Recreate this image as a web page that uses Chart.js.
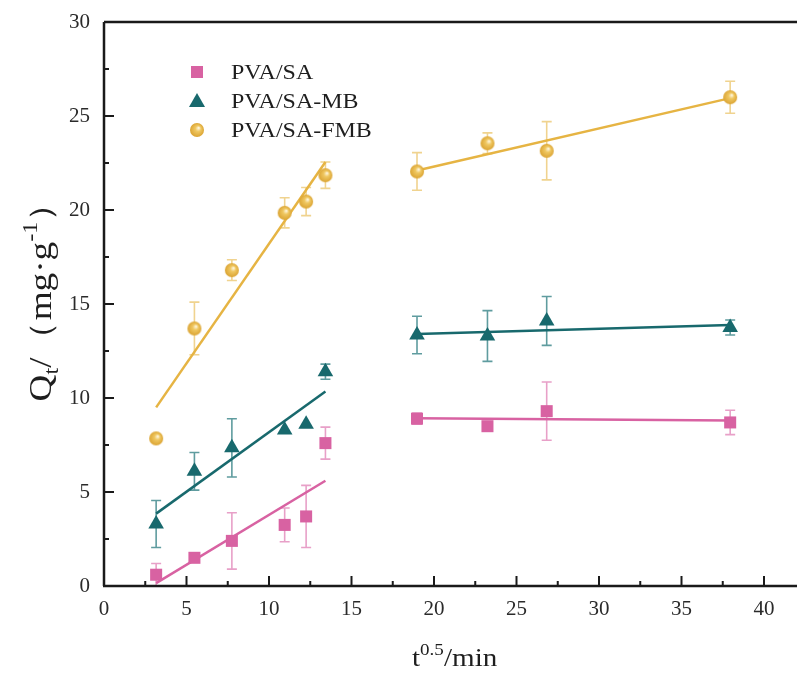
<!DOCTYPE html>
<html>
<head>
<meta charset="utf-8">
<script src="https://cdn.jsdelivr.net/npm/chart.js@4"></script>
<style>
  body { margin: 0; background: #fff; }
  canvas { display: block; }
</style>
</head>
<body>
<canvas id="chart" width="797" height="673"></canvas>
<script>
// sqrt(t) values (min^0.5)
const tVals = [3.16, 5.48, 7.75, 10.95, 12.25, 13.42, 18.97, 23.24, 26.83, 37.95];

const saY = [0.6, 1.5, 2.4, 3.25, 3.7, 7.6, 8.9, 8.5, 9.3, 8.7];
const saErr = [0.6, 0.15, 1.5, 0.9, 1.65, 0.85, 0.3, 0.2, 1.55, 0.65];
const mbY = [3.3, 6.1, 7.35, 8.3, 8.6, 11.4, 13.35, 13.3, 14.1, 13.75];
const mbErr = [1.25, 1.0, 1.55, 0.15, 0.1, 0.4, 1.0, 1.35, 1.3, 0.4];
const fmbY = [7.85, 13.7, 16.8, 19.85, 20.45, 21.85, 22.05, 23.55, 23.15, 26.0];
const fmbErr = [0.2, 1.4, 0.55, 0.8, 0.75, 0.7, 1.0, 0.55, 1.55, 0.85];

// fitted segments (x from, x to / y from, y to)
const fitX1 = [3.16, 13.42];
const fitX2 = [18.97, 37.95];
const saFit1 = [0.15, 5.6];
const saFit2 = [8.92, 8.8];
const mbFit1 = [3.85, 10.35];
const mbFit2 = [13.4, 13.88];
const fmbFit1 = [9.5, 22.55];
const fmbFit2 = [22.1, 25.95];

const xTicks = [0, 5, 10, 15, 20, 25, 30, 35, 40];
const yTicks = [0, 5, 10, 15, 20, 25, 30];
const labels = ["PVA/SA", "PVA/SA-MB", "PVA/SA-FMB"];

const PINK = "#d862a2", TEAL = "#18696d", GOLD = "#e6b443";
const PINK_E = "#e8a0c8", TEAL_E = "#5f9c9f", GOLD_E = "#f0d38f";
const SERIF = "'Liberation Serif', 'DejaVu Serif', serif";

// shaded ball marker for the FMB series
function makeBall(r) {
  const c = document.createElement("canvas");
  c.width = c.height = r * 2 + 2;
  const g = c.getContext("2d");
  const cx = r + 1, cy = r + 1;
  const grad = g.createRadialGradient(cx + r * 0.25, cy - r * 0.3, 0.5, cx, cy, r);
  grad.addColorStop(0, "#fdf4d8");
  grad.addColorStop(0.35, "#f0c862");
  grad.addColorStop(1, "#dba433");
  g.fillStyle = grad;
  g.beginPath();
  g.arc(cx, cy, r, 0, Math.PI * 2);
  g.fill();
  return c;
}
const ball = makeBall(7);

const pts = (ys) => tVals.map((x, i) => ({ x, y: ys[i] }));
const seg = (xs, ys) => xs.map((x, i) => ({ x, y: ys[i] }));

function fitLine(xs, ys, color) {
  return {
    type: "line", data: seg(xs, ys), borderColor: color, borderWidth: 2.5,
    pointRadius: 0, showLine: true, fill: false, order: 3
  };
}

const series = [
  { y: saY, err: saErr, color: PINK, ecolor: PINK_E },
  { y: mbY, err: mbErr, color: TEAL, ecolor: TEAL_E },
  { y: fmbY, err: fmbErr, color: GOLD, ecolor: GOLD_E }
];

// error bars behind markers
const errorBars = {
  id: "errorBars",
  beforeDatasetsDraw(chart) {
    const { ctx, scales: { x, y } } = chart;
    ctx.save();
    ctx.lineWidth = 1.6;
    series.forEach((s) => {
      ctx.strokeStyle = s.ecolor;
      tVals.forEach((t, i) => {
        if (s.err[i] < 0.25) return;
        const px = x.getPixelForValue(t);
        const top = y.getPixelForValue(s.y[i] + s.err[i]);
        const bot = y.getPixelForValue(s.y[i] - s.err[i]);
        ctx.beginPath();
        ctx.moveTo(px, top); ctx.lineTo(px, bot);
        ctx.moveTo(px - 5, top); ctx.lineTo(px + 5, top);
        ctx.moveTo(px - 5, bot); ctx.lineTo(px + 5, bot);
        ctx.stroke();
      });
    });
    ctx.restore();
  }
};

// text runs with sub/superscripts, stretched horizontally by sx
function runsWidth(ctx, runs) {
  let w = 0;
  runs.forEach((r) => {
    ctx.font = r.size + "px " + SERIF;
    w += ctx.measureText(r.text).width;
  });
  return w;
}
function drawRuns(ctx, runs, x, y, sx) {
  ctx.save();
  ctx.translate(x, y);
  ctx.scale(sx, 1);
  let cx = 0;
  runs.forEach((r) => {
    ctx.font = r.size + "px " + SERIF;
    ctx.fillText(r.text, cx, r.dy || 0);
    cx += ctx.measureText(r.text).width;
  });
  ctx.restore();
}

// axes frame, inward ticks, titles and legend
const frame = {
  id: "frame",
  afterDraw(chart) {
    const { ctx, chartArea: a, scales: { x, y } } = chart;
    ctx.save();
    ctx.strokeStyle = "#1a1a1a";
    ctx.lineWidth = 2.5;
    ctx.beginPath();
    ctx.moveTo(a.left, a.top); ctx.lineTo(a.right, a.top);
    ctx.moveTo(a.left, a.top); ctx.lineTo(a.left, a.bottom);
    ctx.moveTo(a.left - 1, a.bottom); ctx.lineTo(a.right, a.bottom);
    ctx.stroke();

    ctx.lineWidth = 2;
    ctx.beginPath();
    for (let v = 2.5; v <= 41; v += 2.5) {
      const px = x.getPixelForValue(v);
      const len = v % 5 === 0 ? 10 : 5;
      ctx.moveTo(px, a.bottom); ctx.lineTo(px, a.bottom - len);
    }
    for (let v = 2.5; v < 30; v += 2.5) {
      const py = y.getPixelForValue(v);
      const len = v % 5 === 0 ? 10 : 5;
      ctx.moveTo(a.left, py); ctx.lineTo(a.left + len, py);
    }
    ctx.stroke();

    // axis titles
    ctx.fillStyle = "#1e1e1e";
    ctx.textBaseline = "alphabetic";
    ctx.textAlign = "left";
    drawRuns(ctx, [
      { text: "t", size: 26 },
      { text: "0.5", size: 17, dy: -11 },
      { text: "/min", size: 26 }
    ], 412, 666, 1.12);

    const yRuns = [
      { text: "Q", size: 31 },
      { text: "t", size: 20, dy: 7 },
      { text: "/（mg·g", size: 31 },
      { text: "-1", size: 20, dy: -14 },
      { text: "）", size: 31 }
    ];
    const sy = 1.2;
    ctx.save();
    ctx.translate(51, 293);
    ctx.rotate(-Math.PI / 2);
    drawRuns(ctx, yRuns, -runsWidth(ctx, yRuns) * sy / 2, 0, sy);
    ctx.restore();

    // legend
    ctx.textBaseline = "middle";
    const rows = [72, 101, 130];
    labels.forEach((lab, i) => {
      const mx = 197, my = rows[i];
      if (i === 0) {
        ctx.fillStyle = PINK;
        ctx.fillRect(mx - 6, my - 6, 12, 12);
      } else if (i === 1) {
        ctx.fillStyle = TEAL;
        ctx.beginPath();
        ctx.moveTo(mx, my - 8); ctx.lineTo(mx + 8, my + 6); ctx.lineTo(mx - 8, my + 6);
        ctx.closePath(); ctx.fill();
      } else {
        ctx.drawImage(ball, mx - ball.width / 2, my - ball.height / 2);
      }
      ctx.fillStyle = "#1e1e1e";
      drawRuns(ctx, [{ text: lab, size: 22 }], 231, my + 1, 1.09);
    });
    ctx.restore();
  }
};

new Chart(document.getElementById("chart"), {
  type: "scatter",
  data: {
    datasets: [
      { label: labels[0], data: pts(saY), pointStyle: "rect", pointRadius: 8.5,
        backgroundColor: PINK, borderColor: PINK, borderWidth: 0, order: 1 },
      { label: labels[1], data: pts(mbY), pointStyle: "triangle", pointRadius: 9,
        backgroundColor: TEAL, borderColor: TEAL, borderWidth: 0, order: 1 },
      { label: labels[2], data: pts(fmbY), pointStyle: ball, pointRadius: 7,
        backgroundColor: GOLD, borderColor: GOLD, borderWidth: 0, order: 1 },
      fitLine(fitX1, saFit1, PINK), fitLine(fitX2, saFit2, PINK),
      fitLine(fitX1, mbFit1, TEAL), fitLine(fitX2, mbFit2, TEAL),
      fitLine(fitX1, fmbFit1, GOLD), fitLine(fitX2, fmbFit2, GOLD)
    ]
  },
  options: {
    responsive: false,
    animation: false,
    devicePixelRatio: 1,
    layout: { autoPadding: false, padding: { top: 22, right: 0, left: 0, bottom: 0 } },
    plugins: { legend: { display: false }, tooltip: { enabled: false } },
    scales: {
      x: {
        type: "linear", min: 0, max: 42,
        afterBuildTicks: (s) => { s.ticks = xTicks.map((v) => ({ value: v })); },
        afterFit: (s) => { s.height = 87; s.paddingLeft = 0; s.paddingRight = 0; },
        grid: { display: false, drawTicks: false },
        border: { display: false },
        ticks: { padding: 11, color: "#2a2a2a", font: { family: SERIF, size: 21 } }
      },
      y: {
        type: "linear", min: 0, max: 30,
        afterBuildTicks: (s) => { s.ticks = yTicks.map((v) => ({ value: v })); },
        afterFit: (s) => { s.width = 104; s.paddingTop = 0; s.paddingBottom = 0; },
        grid: { display: false, drawTicks: false },
        border: { display: false },
        ticks: { padding: 14, color: "#2a2a2a", font: { family: SERIF, size: 21 } }
      }
    }
  },
  plugins: [errorBars, frame]
});
</script>
</body>
</html>
